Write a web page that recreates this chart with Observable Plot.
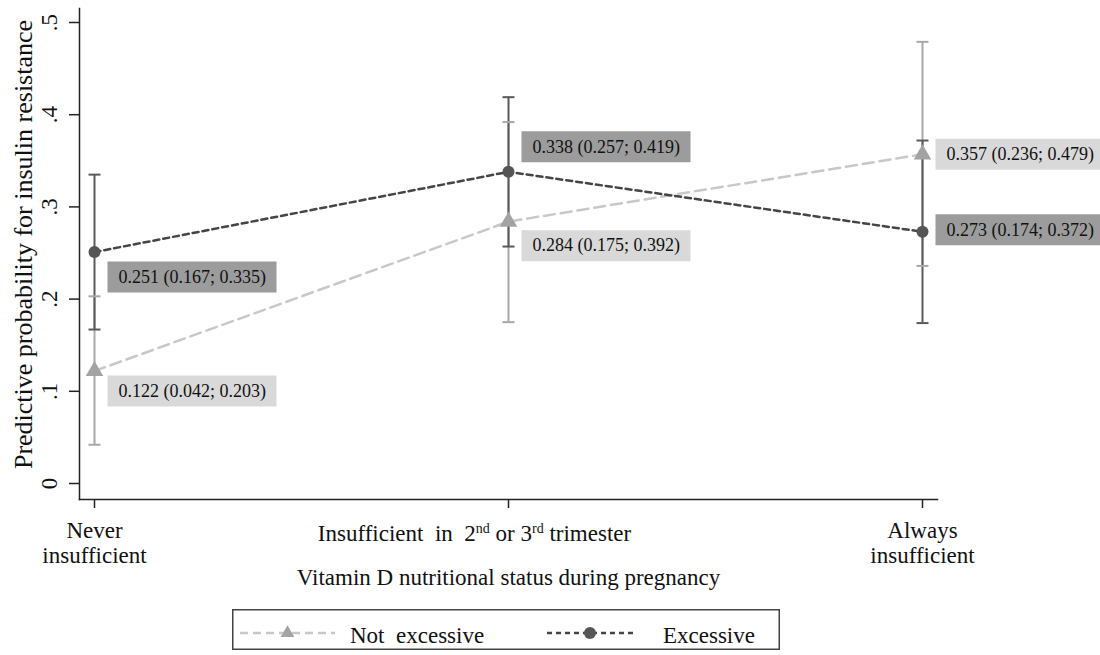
<!DOCTYPE html>
<html><head><meta charset="utf-8">
<script src="https://cdn.jsdelivr.net/npm/d3@7"></script>
<script src="https://cdn.jsdelivr.net/npm/@observablehq/plot@0.6"></script>
<style>
body{margin:0;background:#fff;font-family:"Liberation Serif",serif;}
#wrap{position:relative;width:1100px;height:655px;background:#fff;}
#legend{position:absolute;left:232px;top:609px;}
</style></head><body><div id="wrap"><div id="chart"></div><div id="legend"></div></div>
<script>
// ---- data ----
const categories = ["Never insufficient", "Insufficient in 2nd or 3rd trimester", "Always insufficient"];
const xTickLabels = ["Never\ninsufficient", "Insufficient  in  2nd or 3rd trimester", "Always\ninsufficient"];
const seriesNames = ["Not excessive", "Excessive"];
const notExcEst = [0.122, 0.284, 0.357];
const notExcLo  = [0.042, 0.175, 0.236];
const notExcHi  = [0.203, 0.392, 0.479];
const excEst = [0.251, 0.338, 0.273];
const excLo  = [0.167, 0.257, 0.174];
const excHi  = [0.335, 0.419, 0.372];
const yTicks = [0, 0.1, 0.2, 0.3, 0.4, 0.5];
const yTickLabels = ["0", ".1", ".2", ".3", ".4", ".5"];
const yTitle = "Predictive probability for insulin resistance";
const xTitle = "Vitamin D nutritional status during pregnancy";

// ---- styling ----
const sty = {
  "Not excessive": {line:"#c8c8c8", dash:"11,6", bar:"#a8a8a8", marker:"#a3a3a3", box:"#d9d9d9", symbol:"triangle", r:6.5,
                    labelDy:[20, 24, 0]},
  "Excessive":     {line:"#454545", dash:"6,4", bar:"#5a5a5a", marker:"#555555", box:"#9c9c9c", symbol:"circle", r:6,
                    labelDy:[25, -25, -2]}
};

const rows = [];
categories.forEach((c, i) => {
  rows.push({cat:c, i, series:"Not excessive", est:notExcEst[i], lo:notExcLo[i], hi:notExcHi[i]});
  rows.push({cat:c, i, series:"Excessive", est:excEst[i], lo:excLo[i], hi:excHi[i]});
});
const bySeries = s => rows.filter(r => r.series === s);
const fmt = r => `${r.est.toFixed(3)} (${r.lo.toFixed(3)}; ${r.hi.toFixed(3)})`;

const capSym = {draw(ctx){ ctx.moveTo(-6, 0); ctx.lineTo(6, 0); }};
const boxSym = {draw(ctx){ ctx.rect(0, -15.5, 169, 31); }};

const H = 600;
const marks = [
  Plot.frame({anchor:"left", stroke:"#222", strokeWidth:1.5}),
  Plot.frame({anchor:"bottom", stroke:"#222", strokeWidth:1.5}),
  Plot.axisY(yTicks, {tickSize:10, label:null, tickFormat: () => "", stroke:"#222", strokeWidth:1.5}),
  Plot.text(yTicks, {y: d => d, text: d => yTickLabels[yTicks.indexOf(d)], frameAnchor:"left", rotate:-90,
    dx:-29.5, fontSize:23, textAnchor:"middle", lineAnchor:"middle", fill:"#111"}),
  Plot.axisX(categories, {tickSize:9, label:null, tickFormat: () => "", stroke:"#222", strokeWidth:1.5}),
  Plot.text([0, 2], {x: i => categories[i], text: i => xTickLabels[i], frameAnchor:"bottom",
    dy:20.7, lineAnchor:"top", lineHeight:1.1, fontSize:23, fill:"#111"}),
  Plot.text([1], {x: i => categories[i], text: i => xTickLabels[i], frameAnchor:"bottom",
    dx:-34, dy:25.5, lineAnchor:"top", fontSize:23, fill:"#111"}),
  Plot.text([xTitle], {frameAnchor:"bottom", dy:68.7, lineAnchor:"top", fontSize:23, fill:"#111"}),
  Plot.text([yTitle], {frameAnchor:"left", rotate:-90, dx:-56, dy:-9.5, fontSize:26, textAnchor:"middle", lineAnchor:"middle", fill:"#111"})
];
// connecting lines
for (const s of seriesNames) {
  marks.push(Plot.line(bySeries(s), {x:"cat", y:"est", stroke:sty[s].line, strokeWidth:2.5, strokeDasharray:sty[s].dash}));
}
// error bars
for (const s of seriesNames) {
  marks.push(Plot.ruleX(bySeries(s), {x:"cat", y1:"lo", y2:"hi", stroke:sty[s].bar, strokeWidth:2}));
}
for (const s of ["Excessive", "Not excessive"]) {
  const d = bySeries(s).flatMap(r => [{cat:r.cat, v:r.lo}, {cat:r.cat, v:r.hi}]);
  marks.push(Plot.dot(d, {x:"cat", y:"v", symbol:capSym, stroke:sty[s].bar, strokeWidth:2, fill:"none"}));
}
// markers
for (const s of seriesNames) {
  marks.push(Plot.dot(bySeries(s), {x:"cat", y:"est", symbol:sty[s].symbol, r:sty[s].r, fill:sty[s].marker, stroke:"none"}));
}
// value labels
for (const r of rows) {
  const dy = sty[r.series].labelDy[r.i];
  marks.push(Plot.dot([r], {x:"cat", y:"est", symbol:boxSym, fill:sty[r.series].box, stroke:"none", dx:13, dy}));
  marks.push(Plot.text([r], {x:"cat", y:"est", text:fmt, dx:24, dy, textAnchor:"start", lineAnchor:"middle", fontSize:18, fill:"#111"}));
}

const chart = Plot.plot({
  width:1100, height:H, marginLeft:79, marginRight:163, marginTop:8, marginBottom:H - 499,
  style:{fontFamily:"Liberation Serif", color:"#111", background:"white", overflow:"visible"},
  x:{type:"point", domain:categories, range:[94, 922], padding:0},
  y:{domain:[0, 0.5], range:[483, 22]},
  marks
});
document.getElementById("chart").appendChild(chart);

// superscripts in middle tick label
chart.querySelectorAll("text").forEach(t => {
  if (t.textContent.includes("2nd or 3rd")) {
    const parts = [["Insufficient  in  2", 0, null], ["nd", -8, 14], [" or 3", 8, null], ["rd", -8, 14], [" trimester", 8, null]];
    t.textContent = "";
    t.setAttribute("xml:space", "preserve");
    t.style.whiteSpace = "pre";
    for (const [s, ddy, fs] of parts) {
      const ts = document.createElementNS("http://www.w3.org/2000/svg", "tspan");
      ts.textContent = s;
      if (ddy) ts.setAttribute("dy", ddy);
      if (fs) ts.setAttribute("font-size", fs);
      t.appendChild(ts);
    }
  }
});

// legend
const lw = 548, lh = 41;
const lg = d3.select("#legend").append("svg").attr("width", lw).attr("height", lh)
  .style("font-family", "Liberation Serif");
lg.append("rect").attr("x", 0.75).attr("y", 0.75).attr("width", lw - 1.5).attr("height", lh - 1.5)
  .attr("fill", "white").attr("stroke", "#444").attr("stroke-width", 1.5);
const legItems = [
  {s:"Not excessive", x0:8, x1:103, tx:118, label:"Not  excessive", dash:"8,5"},
  {s:"Excessive", x0:315, x1:401, tx:431, label:"Excessive", dash:"5,4"}
];
for (const it of legItems) {
  const st = sty[it.s];
  const cy = 24;
  lg.append("line").attr("x1", it.x0).attr("x2", it.x1).attr("y1", cy).attr("y2", cy)
    .attr("stroke", st.line).attr("stroke-width", 2.5).attr("stroke-dasharray", it.dash);
  const mx = (it.x0 + it.x1) / 2;
  const sym = it.s === "Excessive" ? d3.symbolCircle : d3.symbolTriangle2;
  const size = Math.PI * st.r * st.r;
  lg.append("path").attr("d", d3.symbol(sym, size)()).attr("transform", `translate(${mx},${cy})`).attr("fill", st.marker);
  lg.append("text").attr("x", it.tx).attr("y", 34).attr("font-size", 23).attr("fill", "#111")
    .style("white-space", "pre").text(it.label);
}
</script></body></html>
